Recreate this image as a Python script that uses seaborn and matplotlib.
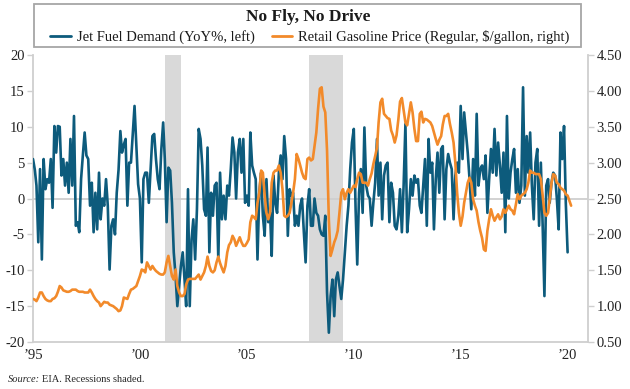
import pandas as pd
import seaborn as sns
import matplotlib.pyplot as plt
from matplotlib.patches import Rectangle
from matplotlib.lines import Line2D

# monthly data, starting January 1995
start = "1995-01-01"

# Jet fuel demand, YoY %, one row per year
jet_fuel = [
    5.5, 4.0, 1.8, -6.1, 4.1, -8.5, 5.5, 1.3, 2.7, 2.2, 5.5, -1.3,            # 1995
    10.1, 6.4, 10.1, 10.0, 3.2, 5.5, 1.8, 5.0, 0.8, 8.3, 1.8, 11.5,           # 1996
    -3.8, -3.3, -4.7, 2.7, 6.0, 9.2, 6.0, 5.5, -1.0, 2.2, -4.7, 0.8,          # 1997
    -4.3, 3.6, -2.9, 0.0, -1.0, 2.7, -1.0, -9.9, -3.8, -2.9, -5.0, 0.8,       # 1998
    4.0, 9.4, 6.4, 7.5, 8.3, -1.0, 5.0, 5.0, 9.0, 12.9, 7.3, 2.0,             # 1999
    0.0, -8.9, 2.7, 3.6, 3.6, -0.6, 4.0, 8.7, 9.0, 5.5, 2.7, 1.3,             # 2000
    6.9, 10.6, 5.5, -3.3, 4.3, 3.9, -0.6, -7.5, -10.8, -15.0, -12.2, -9.4,    # 2001
    -7.5, -11.3, -15.0, 1.3, -15.0, -5.7, -2.9, -8.5, -1.5, 9.7, 8.3, 4.6,    # 2002
    -1.5, -2.4, 7.1, -7.5, 0.8, -2.4, 1.8, 2.2, -8.5, 3.6, -2.9, 0.4,         # 2003
    -2.9, 1.8, 0.4, 4.1, 8.5, 6.4, 0.0, 6.4, 8.3, 3.6, 8.3, -0.6,             # 2004
    0.4, -1.0, 9.2, 4.6, 3.6, 2.7, -8.5, 0.8, 3.6, -2.4, -5.2, 2.7,           # 2005
    -3.3, -2.0, -8.0, 3.2, -0.6, -2.0, 3.6, 6.0, 2.7, 8.7, 5.5, -5.2,         # 2006
    1.3, 0.4, 0.8, -3.8, -2.4, -3.8, -1.0, 0.0, -4.7, -8.9, -1.0, 1.3,        # 2007
    -3.8, -3.8, 0.0, -2.0, -2.4, -4.3, -5.0, -5.2, -2.4, -13.1, -18.7, -13.6, # 2008
    -11.3, -16.4, -11.3, -10.3, -12.2, -14.0, -11.3, -7.5, -3.8, -1.0, 4.1, 7.8,  # 2009
    9.7, -1.5, -9.2, 0.8, 4.1, -2.0, 9.9, 1.8, 0.4, 0.0, -3.8, -0.6,          # 2010
    2.2, 8.3, 0.4, 5.0, -2.9, 3.2, 4.6, 5.0, -3.3, 2.2, 0.8, -3.8,            # 2011
    -4.3, -2.4, 1.3, -4.7, 1.8, 10.4, -4.7, -1.5, 2.7, 0.4, 3.2, 2.2,         # 2012
    2.7, -1.0, -2.0, 1.8, 5.5, -3.8, 8.3, 3.6, 5.0, -4.3, 2.7, 6.4,           # 2013
    0.8, 6.9, 7.3, -2.9, 4.1, 6.2, 5.0, 4.1, -2.9, 3.2, 5.0, 3.6,             # 2014
    12.9, 5.5, 12.0, 9.2, 6.4, 2.7, -1.5, 5.5, 0.4, 11.8, 1.8, 4.1,           # 2015
    4.6, 2.7, 6.0, -2.0, 2.7, 6.9, 3.6, 9.7, 3.2, 7.8, 4.6, 0.8,              # 2016
    6.4, -4.7, 11.5, 0.0, 3.6, 5.5, 6.9, 0.8, 4.1, -0.6, 1.8, 15.5,           # 2017
    0.4, 8.7, 3.6, 9.2, 1.8, -2.9, 5.0, 6.9, -3.8, 5.0, -3.8, -13.6,          # 2018
    1.8, 2.7, -0.6, 2.2, 3.6, 3.2, 0.0, -4.3, 9.2, 5.5, 10.1, -0.6,           # 2019
    -7.5,                                                                     # 2020
]

# Retail gasoline price, regular, $/gallon
gasoline = [
    1.10, 1.09, 1.07, 1.12, 1.19, 1.19, 1.14, 1.10, 1.08, 1.07, 1.07, 1.10,   # 1995
    1.11, 1.14, 1.20, 1.28, 1.26, 1.22, 1.21, 1.20, 1.20, 1.21, 1.23, 1.23,   # 1996
    1.23, 1.21, 1.20, 1.20, 1.20, 1.19, 1.19, 1.19, 1.23, 1.19, 1.14, 1.10,   # 1997
    1.07, 1.05, 1.00, 1.03, 1.06, 1.05, 1.05, 1.02, 1.01, 1.00, 0.98, 0.96,   # 1998
    0.93, 0.94, 1.00, 1.12, 1.11, 1.10, 1.17, 1.23, 1.24, 1.26, 1.28, 1.35,   # 1999
    1.42, 1.51, 1.50, 1.47, 1.61, 1.56, 1.51, 1.56, 1.52, 1.49, 1.47, 1.45,   # 2000
    1.44, 1.44, 1.47, 1.61, 1.70, 1.56, 1.42, 1.37, 1.51, 1.28, 1.19, 1.14,   # 2001
    1.14, 1.17, 1.30, 1.37, 1.38, 1.38, 1.38, 1.38, 1.41, 1.44, 1.37, 1.42,   # 2002
    1.47, 1.56, 1.69, 1.56, 1.49, 1.47, 1.50, 1.61, 1.69, 1.60, 1.53, 1.47,   # 2003
    1.56, 1.75, 1.85, 1.89, 1.98, 1.93, 1.84, 1.90, 1.96, 1.89, 1.84, 1.84,   # 2004
    1.88, 1.93, 2.17, 2.26, 2.24, 2.21, 2.44, 2.58, 2.89, 2.86, 2.54, 2.30,   # 2005
    2.21, 2.30, 2.72, 2.86, 2.89, 2.89, 2.96, 2.86, 2.63, 2.26, 2.24, 2.26,   # 2006
    2.30, 2.44, 2.58, 2.77, 3.12, 3.05, 2.96, 2.86, 2.79, 2.77, 3.05, 3.07,   # 2007
    3.03, 3.05, 3.23, 3.42, 3.75, 4.03, 4.05, 3.78, 3.70, 3.17, 2.20, 1.70,   # 2008
    1.79, 1.89, 1.95, 2.05, 2.30, 2.58, 2.63, 2.49, 2.58, 2.63, 2.58, 2.63,   # 2009
    2.68, 2.66, 2.77, 2.86, 2.84, 2.72, 2.72, 2.72, 2.68, 2.77, 2.85, 2.98,   # 2010
    3.09, 3.21, 3.56, 3.84, 3.89, 3.68, 3.65, 3.62, 3.61, 3.45, 3.38, 3.28,   # 2011
    3.38, 3.60, 3.85, 3.90, 3.73, 3.56, 3.52, 3.68, 3.84, 3.70, 3.47, 3.30,   # 2012
    3.30, 3.68, 3.71, 3.56, 3.61, 3.60, 3.58, 3.56, 3.51, 3.42, 3.33, 3.25,   # 2013
    3.32, 3.37, 3.53, 3.65, 3.65, 3.68, 3.54, 3.42, 3.28, 3.00, 2.58, 2.30,   # 2014
    2.12, 2.25, 2.44, 2.58, 2.72, 2.79, 2.72, 2.49, 2.40, 2.33, 2.17, 2.05,   # 2015
    1.95, 1.79, 1.77, 2.05, 2.21, 2.35, 2.26, 2.19, 2.24, 2.28, 2.21, 2.25,   # 2016
    2.35, 2.30, 2.35, 2.40, 2.35, 2.33, 2.28, 2.42, 2.56, 2.49, 2.54, 2.56,   # 2017
    2.58, 2.63, 2.72, 2.89, 2.86, 2.86, 2.84, 2.84, 2.84, 2.77, 2.54, 2.30,   # 2018
    2.26, 2.30, 2.49, 2.72, 2.84, 2.82, 2.72, 2.70, 2.65, 2.63, 2.61, 2.56,   # 2019
    2.54, 2.47, 2.40,                                                         # 2020
]

recessions = [("2001-03-01", "2001-11-30"), ("2007-12-01", "2009-06-30")]
year_ticks = [1995, 2000, 2005, 2010, 2015, 2020]
year_labels = ["\u201995", "\u201900", "\u201905", "\u201910", "\u201915", "\u201920"]
left_ticks = [-20, -15, -10, -5, 0, 5, 10, 15, 20]
right_ticks = [0.5, 1.0, 1.5, 2.0, 2.5, 3.0, 3.5, 4.0, 4.5]

jet_df = pd.DataFrame({"date": pd.date_range(start, periods=len(jet_fuel), freq="MS"),
                       "value": jet_fuel})
gas_df = pd.DataFrame({"date": pd.date_range(start, periods=len(gasoline), freq="MS"),
                       "value": gasoline})

blue = "#0d5b7c"
orange = "#f28a2a"
grey = "#cfcfcf"

sns.set_style("white")
plt.rcParams["font.family"] = ["Liberation Serif", "DejaVu Serif"]

fig = plt.figure(figsize=(6.3, 3.89), dpi=100)
ax = fig.add_axes([0.0524, 0.1208, 0.8810, 0.7378])
ax2 = ax.twinx()

# Rezessionen grau hinterlegt
for r0, r1 in recessions:
    ax.axvspan(pd.Timestamp(r0), pd.Timestamp(r1), color="#d9d9d9", lw=0, zorder=0)
ax.axhline(0, color=grey, lw=1.3, zorder=1)

sns.lineplot(data=jet_df, x="date", y="value", ax=ax, color=blue, lw=1.9, zorder=3)
sns.lineplot(data=gas_df, x="date", y="value", ax=ax2, color=orange, lw=1.9, zorder=3)

ax.set_xlim(pd.Timestamp("1995-01-01"), pd.Timestamp("2020-12-15"))
ax.set_ylim(-20, 20)
ax2.set_ylim(0.5, 4.5)
ax.set_yticks(left_ticks)
ax.set_yticklabels([str(t) for t in left_ticks])
ax2.set_yticks(right_ticks)
ax2.set_yticklabels([f"{t:.2f}" for t in right_ticks])
ax.set_xticks([pd.Timestamp(f"{y}-01-01") for y in year_ticks])
ax.set_xticklabels(year_labels)
ax.set_xlabel("")
ax.set_ylabel("")
ax2.set_ylabel("")

for a in (ax, ax2):
    for side in a.spines:
        a.spines[side].set_visible(False)
    a.tick_params(labelsize=10.5, colors="#222222", length=4, width=1, pad=2)
ax.spines["left"].set_visible(True)
ax.spines["bottom"].set_visible(True)
ax2.spines["right"].set_visible(True)
for s in (ax.spines["left"], ax.spines["bottom"], ax2.spines["right"]):
    s.set_color(grey)
    s.set_linewidth(1.3)
ax.tick_params(axis="y", color=grey)
ax2.tick_params(axis="y", color=grey)
ax.tick_params(axis="x", length=0, pad=5)

# Kasten mit Titel und Legende
fig.patches.append(Rectangle((34 / 630, 1 - 47 / 389), 547 / 630, 43 / 389,
                             transform=fig.transFigure, fill=False,
                             edgecolor="#a6a6a6", lw=1.3))
fig.text(0.49, 1 - 17 / 389, "No Fly, No Drive", ha="center", va="center",
         fontsize=12.5, fontweight="bold", color="#1a1a1a")
handles = [Line2D([], [], color=blue, lw=2), Line2D([], [], color=orange, lw=2)]
labels = ["Jet Fuel Demand (YoY%, left)", "Retail Gasoline Price (Regular, $/gallon, right)"]
fig.legend(handles, labels, loc="center", bbox_to_anchor=(0.492, 1 - 37 / 389), ncol=2,
           frameon=False, fontsize=10.5, handlelength=1.4, handletextpad=0.4,
           columnspacing=1.2, borderpad=0, labelcolor="#1a1a1a")

# Quelle unten links
fig.text(8 / 630, 1 - 379 / 389, "Source:", fontsize=7.5, style="italic", va="center")
fig.text(42 / 630, 1 - 379 / 389, "EIA. Recessions shaded.", fontsize=7.5, va="center")

plt.savefig("out.png", dpi=100)
